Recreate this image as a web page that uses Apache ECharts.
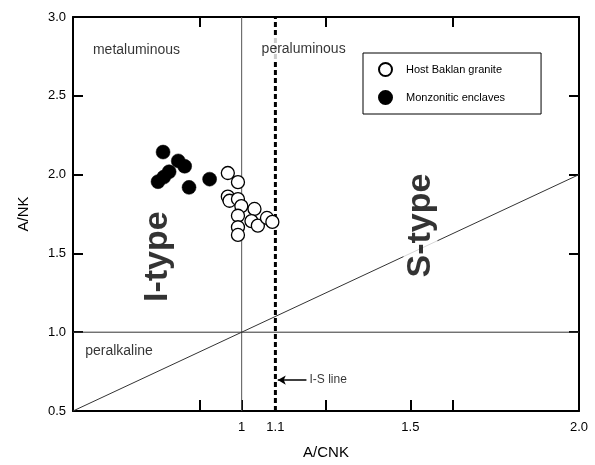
<!DOCTYPE html>
<html>
<head>
<meta charset="utf-8">
<script src="https://cdn.jsdelivr.net/npm/echarts@6/dist/echarts.min.js"></script>
<style>
  html, body { margin: 0; padding: 0; background: #fff; }
  #chart { width: 595px; height: 465px; }
</style>
</head>
<body>
<div id="chart"></div>
<script>
// Host Baklan granite (open circles)
const hostX = [0.959, 0.989, 0.959, 0.964, 0.989, 0.999, 0.989, 1.038, 1.029, 1.048, 1.075, 1.091, 0.989, 0.989];
const hostY = [2.010, 1.952, 1.860, 1.834, 1.845, 1.800, 1.739, 1.782, 1.705, 1.676, 1.725, 1.700, 1.666, 1.617];

// Monzonitic enclaves (filled circles)
const enclaveX = [0.767, 0.812, 0.831, 0.785, 0.769, 0.752, 0.844, 0.905];
const enclaveY = [2.143, 2.087, 2.053, 2.018, 1.984, 1.955, 1.919, 1.971];

// Axis ranges, tick and label positions
const xRange = [0.5, 2.0];
const yRange = [0.5, 3.0];
const xLabelValues = [1, 1.1, 1.5, 2.0];
const xBottomTicks = [0.875, 1.0, 1.25, 1.5, 1.625];
const xTopTicks = [0.875, 1.25, 1.625];

// Classification boundaries
const metaPeraBoundary = [[1, 0.5], [1, 3.0]];
const isLine = [[1.1, 0.5], [1.1, 3.0]];
const peralkalineBoundary = [[0.5, 1], [2.0, 1]];
const equalityLine = [[0.5, 0.5], [2.0, 2.0]];

// Field names
const fieldLabels = [
  { text: 'metaluminous', at: [0.553, 2.792] },
  { text: 'peraluminous', at: [1.053, 2.798] },
  { text: 'peralkaline', at: [0.530, 0.879] }
];
const typeLabels = [
  { text: 'I-type', at: [0.751, 1.479] },
  { text: 'S-type', at: [1.530, 1.677] }
];
const isLabel = { text: 'I-S line', at: [1.201, 0.696] };
const isArrow = [[1.192, 0.696], [1.107, 0.696]];

const FONT = '"Liberation Sans", Arial, Helvetica, sans-serif';
const pair = (xs, ys) => xs.map((x, i) => [x, ys[i]]);

const chart = echarts.init(document.getElementById('chart'), null, { renderer: 'canvas' });

const frameLine = { show: true, onZero: false, lineStyle: { color: '#000', width: 2 } };
const tickStyle = { show: true, inside: true, length: 10, lineStyle: { color: '#000', width: 2 } };

function boundary(name, data, style) {
  return {
    name, type: 'line', data, z: 2, silent: true, symbol: 'none',
    lineStyle: style, xAxisIndex: 0, yAxisIndex: 0
  };
}

function textSeries(name, items, labelOpts) {
  return {
    name, type: 'scatter', z: 5, silent: true, symbolSize: 0.1,
    itemStyle: { color: 'rgba(0,0,0,0)' },
    data: items.map(it => ({ value: it.at, label: Object.assign({ formatter: it.text }, labelOpts) })),
    label: { show: true }
  };
}

chart.setOption({
  animation: false,
  backgroundColor: '#fff',
  grid: { left: 73, right: 16, top: 17, bottom: 52 },
  legend: {
    data: ['Host Baklan granite', 'Monzonitic enclaves'],
    orient: 'vertical',
    left: 363, top: 53,
    padding: [9, 36, 9, 15],
    itemWidth: 13, itemHeight: 13, itemGap: 13,
    borderColor: '#000', borderWidth: 1,
    backgroundColor: '#fff',
    selectedMode: false,
    textStyle: { fontFamily: FONT, fontSize: 11, color: '#000', padding: [0, 0, 0, 9] }
  },
  xAxis: [
    {
      type: 'value', position: 'bottom', min: xRange[0], max: xRange[1],
      name: 'A/CNK', nameLocation: 'middle', nameGap: 34,
      nameTextStyle: { fontFamily: FONT, fontSize: 15, color: '#000' },
      axisLine: frameLine,
      axisTick: Object.assign({}, tickStyle, { customValues: xBottomTicks, length: 11 }),
      axisLabel: {
        customValues: xLabelValues, margin: 10,
        fontFamily: FONT, fontSize: 13, color: '#000',
        formatter: v => (v === 1 ? '1' : v.toFixed(1))
      },
      splitLine: { show: false }
    },
    {
      type: 'value', position: 'top', min: xRange[0], max: xRange[1],
      axisLine: frameLine,
      axisTick: Object.assign({}, tickStyle, { customValues: xTopTicks }),
      axisLabel: { show: false },
      splitLine: { show: false }
    }
  ],
  yAxis: [
    {
      type: 'value', position: 'left', min: yRange[0], max: yRange[1], interval: 0.5,
      name: 'A/NK', nameLocation: 'middle', nameGap: 42, nameRotate: 90,
      nameTextStyle: { fontFamily: FONT, fontSize: 15, color: '#000' },
      axisLine: frameLine,
      axisTick: tickStyle,
      axisLabel: { margin: 7, fontFamily: FONT, fontSize: 13, color: '#000', formatter: v => v.toFixed(1) },
      splitLine: { show: false }
    },
    {
      type: 'value', position: 'right', min: yRange[0], max: yRange[1], interval: 0.5,
      axisLine: frameLine,
      axisTick: tickStyle,
      axisLabel: { show: false },
      splitLine: { show: false }
    }
  ],
  series: [
    boundary('metaPera', metaPeraBoundary, { color: '#555', width: 1 }),
    boundary('peralkaline', peralkalineBoundary, { color: '#333', width: 1 }),
    boundary('equality', equalityLine, { color: '#333', width: 1 }),
    Object.assign(boundary('isLine', isLine, { color: '#000', width: 3, type: [5, 3] }), {
      markLine: {
        silent: true, symbol: ['none', 'arrow'], symbolSize: [7, 8],
        label: { show: false },
        lineStyle: { color: '#000', width: 1.5, type: 'solid' },
        data: [[{ coord: isArrow[0] }, { coord: isArrow[1] }]]
      }
    }),
    textSeries('fields', fieldLabels, {
      position: 'right', distance: 0, fontFamily: FONT, fontSize: 14, color: '#000',
      backgroundColor: '#fff', padding: [6, 2]
    }),
    textSeries('types', typeLabels, {
      position: 'inside', rotate: 90, align: 'center', verticalAlign: 'middle',
      fontFamily: FONT, fontSize: 34, fontWeight: 'bold', color: '#000',
      backgroundColor: '#fff', padding: [0, 2]
    }),
    textSeries('isLabel', [isLabel], {
      position: 'right', distance: 0, fontFamily: FONT, fontSize: 12, color: '#000'
    }),
    {
      name: 'Monzonitic enclaves', type: 'scatter', z: 6, symbol: 'circle', symbolSize: 14,
      itemStyle: { color: '#000', borderColor: '#000', borderWidth: 0.5, opacity: 1 },
      data: pair(enclaveX, enclaveY)
    },
    {
      name: 'Host Baklan granite', type: 'scatter', z: 6, symbol: 'circle', symbolSize: 13,
      itemStyle: { color: '#fff', borderColor: '#000', borderWidth: 1.3, opacity: 1 },
      data: pair(hostX, hostY)
    }
  ]
});
</script>
</body>
</html>
